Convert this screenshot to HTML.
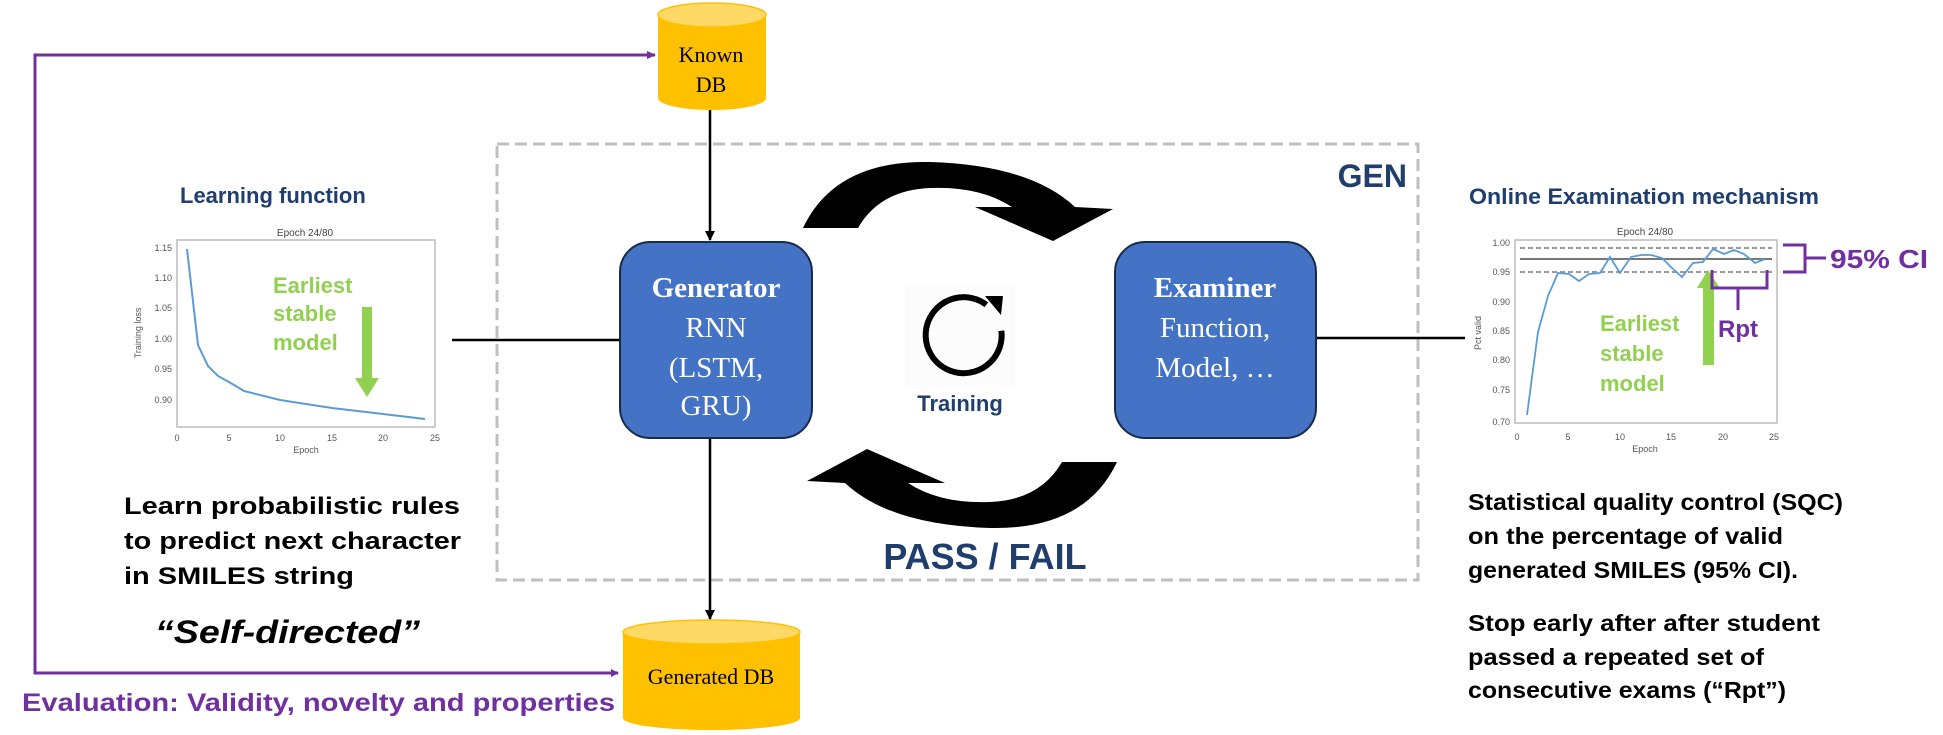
<!DOCTYPE html>
<html><head><meta charset="utf-8"><style>
html,body{margin:0;padding:0;background:#fff;}
svg{display:block;}
</style></head><body>
<svg width="1943" height="735" viewBox="0 0 1943 735" xmlns="http://www.w3.org/2000/svg">
<defs>
<marker id="pa" markerWidth="8" markerHeight="8" refX="7" refY="4" orient="auto" markerUnits="userSpaceOnUse"><path d="M0,0 L8,4 L0,8 Z" fill="#7030a0"/></marker>
<marker id="ka" markerWidth="10" markerHeight="10" refX="9" refY="5" orient="auto" markerUnits="userSpaceOnUse"><path d="M0,0 L10,5 L0,10 Z" fill="#000"/></marker>
</defs>

<rect x="497" y="144" width="921" height="436" fill="none" stroke="#bfbfbf" stroke-width="3" stroke-dasharray="12,6"/>
<text x="1407" y="187" text-anchor="end" font-family="Liberation Sans, sans-serif" font-weight="bold" font-size="32" fill="#1f3e6e">GEN</text>

<polyline points="655,55 35,55 35,673 618,673" fill="none" stroke="#7030a0" stroke-width="3" marker-end="url(#pa)"/>
<path d="M647,51 L656,55 L647,59 Z" fill="#7030a0"/>
<text x="22" y="711" font-family="Liberation Sans, sans-serif" font-weight="bold" font-size="25" fill="#7030a0" textLength="593" lengthAdjust="spacingAndGlyphs">Evaluation: Validity, novelty and properties</text>

<path d="M658,15 L658,98 A54,12 0 0 0 766,98 L766,15 Z" fill="#ffc000"/>
<ellipse cx="712" cy="15" rx="54" ry="12" fill="#ffd966" stroke="#ffc000" stroke-width="1.5"/>
<text x="711" y="62" text-anchor="middle" font-family="Liberation Serif, serif" font-size="22">Known</text>
<text x="711" y="92" text-anchor="middle" font-family="Liberation Serif, serif" font-size="22">DB</text>

<path d="M623,632 L623,718 A88,12 0 0 0 800,718 L800,632 Z" fill="#ffc000"/>
<ellipse cx="711.5" cy="632" rx="88.5" ry="12" fill="#ffd966" stroke="#ffc000" stroke-width="1.5"/>
<text x="711" y="684" text-anchor="middle" font-family="Liberation Serif, serif" font-size="22">Generated DB</text>

<line x1="710" y1="110" x2="710" y2="240" stroke="#000" stroke-width="2.5" marker-end="url(#ka)"/>
<line x1="710" y1="438" x2="710" y2="619" stroke="#000" stroke-width="2.5" marker-end="url(#ka)"/>

<line x1="452" y1="340" x2="620" y2="340" stroke="#000" stroke-width="2.5"/>
<line x1="1316" y1="338" x2="1465" y2="338" stroke="#000" stroke-width="2.5"/>

<rect x="620" y="242" width="192" height="196" rx="30" fill="#4472c4" stroke="#1a2a4a" stroke-width="2"/>
<text x="716" y="297" text-anchor="middle" font-family="Liberation Serif, serif" font-weight="bold" font-size="29" fill="#fff">Generator</text>
<text x="716" y="337" text-anchor="middle" font-family="Liberation Serif, serif" font-size="29" fill="#fff">RNN</text>
<text x="716" y="377" text-anchor="middle" font-family="Liberation Serif, serif" font-size="29" fill="#fff">(LSTM,</text>
<text x="716" y="415" text-anchor="middle" font-family="Liberation Serif, serif" font-size="29" fill="#fff">GRU)</text>

<rect x="1115" y="242" width="201" height="196" rx="30" fill="#4472c4" stroke="#1a2a4a" stroke-width="2"/>
<text x="1215" y="297" text-anchor="middle" font-family="Liberation Serif, serif" font-weight="bold" font-size="29" fill="#fff">Examiner</text>
<text x="1215" y="337" text-anchor="middle" font-family="Liberation Serif, serif" font-size="29" fill="#fff">Function,</text>
<text x="1215" y="377" text-anchor="middle" font-family="Liberation Serif, serif" font-size="29" fill="#fff">Model, …</text>

<path d="M803,228 Q835,160 930,162 Q1030,165 1075,207 L1113,209 L1053,241 L975,207 L1012,207 Q980,186 930,188 Q880,190 858,228 Z" fill="#000"/>
<path d="M803,228 Q835,160 930,162 Q1030,165 1075,207 L1113,209 L1053,241 L975,207 L1012,207 Q980,186 930,188 Q880,190 858,228 Z" fill="#000" transform="rotate(180 960 345)"/>

<rect x="905" y="285" width="110" height="105" fill="#fcfcfc"/>
<path d="M998,322 A38,38 0 1 0 998,352" fill="none" stroke="#000" stroke-width="6" transform="rotate(-30 960 335)"/>
<path d="M985,296 L1003,296 L1001,315 Z" fill="#000"/>
<text x="960" y="411" text-anchor="middle" font-family="Liberation Sans, sans-serif" font-weight="bold" font-size="22" fill="#1f3e6e">Training</text>

<text x="985" y="569" text-anchor="middle" font-family="Liberation Sans, sans-serif" font-weight="bold" font-size="36" fill="#1f3e6e">PASS / FAIL</text>

<text x="180" y="203" font-family="Liberation Sans, sans-serif" font-weight="bold" font-size="22" fill="#1f3e6e">Learning function</text>
<text x="305" y="236" text-anchor="middle" font-family="Liberation Sans, sans-serif" font-size="10" fill="#444">Epoch 24/80</text>
<rect x="177" y="240" width="258" height="187" fill="#fff" stroke="#bbb" stroke-width="1.5"/>
<g font-family="Liberation Sans, sans-serif" font-size="9" fill="#555" text-anchor="end">
<text x="172" y="251">1.15</text><text x="172" y="281">1.10</text><text x="172" y="311">1.05</text><text x="172" y="342">1.00</text><text x="172" y="372">0.95</text><text x="172" y="403">0.90</text>
</g>
<g font-family="Liberation Sans, sans-serif" font-size="9" fill="#555" text-anchor="middle">
<text x="177" y="441">0</text><text x="229" y="441">5</text><text x="280" y="441">10</text><text x="332" y="441">15</text><text x="383" y="441">20</text><text x="435" y="441">25</text>
<text x="306" y="453">Epoch</text>
</g>
<text x="141" y="333" text-anchor="middle" font-family="Liberation Sans, sans-serif" font-size="9" fill="#555" transform="rotate(-90 141 333)">Training loss</text>
<polyline fill="none" stroke="#5b9bd5" stroke-width="2" points="187,249 198,345 208,366 218,376 229,382 244,391 280,400 332,408 383,414 425,419"/>
<g font-family="Liberation Sans, sans-serif" font-weight="bold" font-size="22" fill="#92d050">
<text x="273" y="293">Earliest</text><text x="273" y="321">stable</text><text x="273" y="350">model</text>
</g>
<rect x="362" y="307" width="10" height="72" fill="#92d050"/>
<path d="M355,378 L379,378 L367,397 Z" fill="#92d050"/>

<g font-family="Liberation Sans, sans-serif" font-weight="bold" font-size="24" fill="#000">
<text x="124" y="514" textLength="336" lengthAdjust="spacingAndGlyphs">Learn probabilistic rules</text>
<text x="124" y="549" textLength="337" lengthAdjust="spacingAndGlyphs">to predict next character</text>
<text x="124" y="584" textLength="230" lengthAdjust="spacingAndGlyphs">in SMILES string</text>
</g>
<text x="155" y="643" font-family="Liberation Sans, sans-serif" font-weight="bold" font-style="italic" font-size="32" fill="#000" textLength="265" lengthAdjust="spacingAndGlyphs">“Self-directed”</text>

<text x="1469" y="204" font-family="Liberation Sans, sans-serif" font-weight="bold" font-size="22" fill="#1f3e6e" textLength="350" lengthAdjust="spacingAndGlyphs">Online Examination mechanism</text>
<text x="1645" y="235" text-anchor="middle" font-family="Liberation Sans, sans-serif" font-size="10" fill="#444">Epoch 24/80</text>
<rect x="1515" y="240" width="262" height="183" fill="#fff" stroke="#bbb" stroke-width="1.5"/>
<g font-family="Liberation Sans, sans-serif" font-size="9" fill="#555" text-anchor="end">
<text x="1510" y="246">1.00</text><text x="1510" y="275">0.95</text><text x="1510" y="305">0.90</text><text x="1510" y="334">0.85</text><text x="1510" y="363">0.80</text><text x="1510" y="393">0.75</text><text x="1510" y="425">0.70</text>
</g>
<g font-family="Liberation Sans, sans-serif" font-size="9" fill="#555" text-anchor="middle">
<text x="1517" y="440">0</text><text x="1568" y="440">5</text><text x="1620" y="440">10</text><text x="1671" y="440">15</text><text x="1723" y="440">20</text><text x="1774" y="440">25</text>
<text x="1645" y="452">Epoch</text>
</g>
<text x="1481" y="333" text-anchor="middle" font-family="Liberation Sans, sans-serif" font-size="9" fill="#555" transform="rotate(-90 1481 333)">Pct valid</text>
<line x1="1520" y1="248" x2="1772" y2="248" stroke="#999" stroke-width="2" stroke-dasharray="5,3"/>
<line x1="1520" y1="272" x2="1772" y2="272" stroke="#999" stroke-width="2" stroke-dasharray="5,3"/>
<line x1="1520" y1="259" x2="1772" y2="259" stroke="#777" stroke-width="2"/>
<polyline fill="none" stroke="#5b9bd5" stroke-width="1.8" points="1527,415 1538,332 1548,296 1558,273 1569,274 1579,281 1589,274 1600,273 1610,257 1620,273 1631,257 1641,255 1651,255 1662,258 1672,268 1682,277 1693,263 1703,262 1713,249 1724,254 1734,250 1744,254 1755,263 1765,259"/>
<g font-family="Liberation Sans, sans-serif" font-weight="bold" font-size="22" fill="#92d050">
<text x="1600" y="331">Earliest</text><text x="1600" y="361">stable</text><text x="1600" y="391">model</text>
</g>
<rect x="1703" y="285" width="11" height="80" fill="#92d050"/>
<path d="M1697,288 L1720,288 L1708,270 Z" fill="#92d050"/>
<path d="M1712,270 L1712,288 L1767,288 L1767,270 M1738,288 L1738,310" fill="none" stroke="#7030a0" stroke-width="3"/>
<text x="1738" y="337" text-anchor="middle" font-family="Liberation Sans, sans-serif" font-weight="bold" font-size="24" fill="#7030a0">Rpt</text>
<path d="M1783,245 L1805,245 L1805,272 L1783,272 M1805,258 L1826,258" fill="none" stroke="#7030a0" stroke-width="3"/>
<text x="1830" y="268" font-family="Liberation Sans, sans-serif" font-weight="bold" font-size="26" fill="#7030a0" textLength="98" lengthAdjust="spacingAndGlyphs">95% CI</text>

<g font-family="Liberation Sans, sans-serif" font-weight="bold" font-size="23" fill="#000">
<text x="1468" y="510" textLength="375" lengthAdjust="spacingAndGlyphs">Statistical quality control (SQC)</text>
<text x="1468" y="544" textLength="315" lengthAdjust="spacingAndGlyphs">on the percentage of valid</text>
<text x="1468" y="578" textLength="330" lengthAdjust="spacingAndGlyphs">generated SMILES (95% CI).</text>
<text x="1468" y="631" textLength="352" lengthAdjust="spacingAndGlyphs">Stop early after after student</text>
<text x="1468" y="665" textLength="296" lengthAdjust="spacingAndGlyphs">passed a repeated set of</text>
<text x="1468" y="698" textLength="318" lengthAdjust="spacingAndGlyphs">consecutive exams (“Rpt”)</text>
</g>
</svg>
</body></html>
